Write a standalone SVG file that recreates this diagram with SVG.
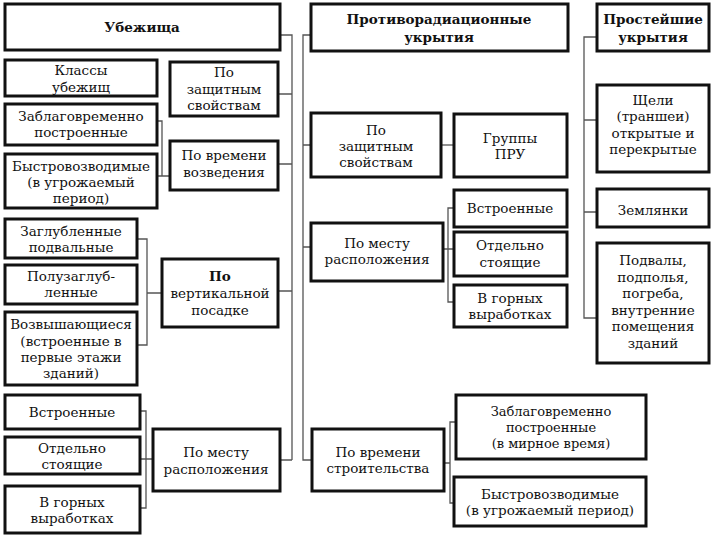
<svg xmlns="http://www.w3.org/2000/svg" width="720" height="540" viewBox="0 0 720 540">
<style>
rect{fill:#fff;stroke:#111;stroke-width:3}
text{font-family:"DejaVu Serif","Liberation Serif",serif;font-size:13.5px;fill:#111;text-anchor:middle}
.b{font-weight:bold}
.s{font-size:13px}
#connectors path{fill:none;stroke:#555;stroke-width:1.3}
</style>
<rect x="0" y="0" width="720" height="540" style="stroke:none"/>
<g id="connectors">
<path d="M280,35 H292 V460 M278,94 H292 M278,164 H292 M278,291 H292 M280,460 H292"/>
<path d="M157,121 H162 V176 M157,176 H170"/>
<path d="M137,239 H147 V345 H137 M147,293 H162"/>
<path d="M140,411 H146 V508 H140 M140,459 H153"/>
<path d="M311,35 H303 V460 H312 M303,145 H311 M303,247 H311"/>
<path d="M441,145 H454"/>
<path d="M454,208 H448 V302 H454 M443,249 H454"/>
<path d="M456,422 H450 V503 H454 M444,463 H450"/>
<path d="M597,37 H584 V318 H597 M584,120 H597 M584,212 H597"/>
</g>
<g id="ubezhishcha"><rect x="5" y="4" width="275" height="46"/><text class="b" x="142" y="32">Убежища</text></g>
<g id="klassy"><rect x="5" y="60" width="152" height="36"/><text x="81" y="75">Классы</text><text x="81" y="92">убежищ</text></g>
<g id="zashch1"><rect x="170" y="62" width="108" height="54"/><text x="224" y="77">По</text><text x="224" y="94">защитным</text><text x="224" y="110">свойствам</text></g>
<g id="zablag1"><rect x="5" y="104" width="152" height="41"/><text x="81" y="121">Заблаговременно</text><text x="81" y="137">построенные</text></g>
<g id="bystro1"><rect x="5" y="154" width="152" height="54"/><text x="81" y="171">Быстровозводимые</text><text x="81" y="187">(в угрожаемый</text><text x="81" y="203">период)</text></g>
<g id="vremya1"><rect x="170" y="141" width="108" height="49"/><text x="224" y="160">По времени</text><text x="224" y="177">возведения</text></g>
<g id="zaglub"><rect x="5" y="219" width="132" height="39"/><text x="71" y="236">Заглубленные</text><text x="71" y="252">подвальные</text></g>
<g id="poluz"><rect x="5" y="265" width="132" height="39"/><text x="71" y="281">Полузаглуб-</text><text x="71" y="297">ленные</text></g>
<g id="vozv"><rect x="5" y="312" width="132" height="73"/><text x="71" y="329">Возвышающиеся</text><text x="71" y="346">(встроенные в</text><text x="71" y="362">первые этажи</text><text x="71" y="378">зданий)</text></g>
<g id="vertik"><rect x="162" y="259" width="116" height="68"/><text class="b" x="220" y="281">По</text><text x="220" y="298">вертикальной</text><text x="220" y="315">посадке</text></g>
<g id="vstr1"><rect x="5" y="395" width="135" height="34"/><text x="72" y="417">Встроенные</text></g>
<g id="otd1"><rect x="5" y="437" width="135" height="37"/><text x="72" y="453">Отдельно</text><text x="72" y="469">стоящие</text></g>
<g id="gorn1"><rect x="5" y="486" width="135" height="47"/><text x="72" y="507">В горных</text><text x="72" y="523">выработках</text></g>
<g id="mesto1"><rect x="153" y="429" width="127" height="62"/><text x="216" y="457">По месту</text><text x="216" y="474">расположения</text></g>
<g id="pru"><rect x="311" y="4" width="257" height="47"/><text class="b" x="439" y="24">Противорадиационные</text><text class="b" x="439" y="42">укрытия</text></g>
<g id="zashch2"><rect x="311" y="113" width="130" height="64"/><text x="376" y="135">По</text><text x="376" y="151">защитным</text><text x="376" y="167">свойствам</text></g>
<g id="gruppy"><rect x="454" y="114" width="113" height="63"/><text x="510" y="143">Группы</text><text x="510" y="159">ПРУ</text></g>
<g id="mesto2"><rect x="311" y="223" width="132" height="58"/><text x="377" y="248">По месту</text><text x="377" y="264">расположения</text></g>
<g id="vstr2"><rect x="454" y="190" width="113" height="37"/><text x="510" y="213">Встроенные</text></g>
<g id="otd2"><rect x="454" y="232" width="113" height="44"/><text x="510" y="250">Отдельно</text><text x="510" y="267">стоящие</text></g>
<g id="gorn2"><rect x="454" y="285" width="113" height="42"/><text x="510" y="303">В горных</text><text x="510" y="319">выработках</text></g>
<g id="vremya2"><rect x="312" y="429" width="132" height="62"/><text x="378" y="457">По времени</text><text x="378" y="473">строительства</text></g>
<g id="zablag2"><rect x="456" y="395" width="190" height="64"/><text class="s" x="551" y="416">Заблаговременно</text><text class="s" x="551" y="432">построенные</text><text class="s" x="551" y="448">(в мирное время)</text></g>
<g id="bystro2"><rect x="454" y="477" width="192" height="49"/><text x="550" y="499">Быстровозводимые</text><text x="550" y="515">(в угрожаемый период)</text></g>
<g id="prost"><rect x="597" y="4" width="112" height="47"/><text class="b" x="653" y="24">Простейшие</text><text class="b" x="653" y="42">укрытия</text></g>
<g id="shcheli"><rect x="597" y="85" width="112" height="87"/><text x="653" y="105">Щели</text><text x="653" y="121">(траншеи)</text><text x="653" y="138">открытые и</text><text x="653" y="154">перекрытые</text></g>
<g id="zeml"><rect x="597" y="189" width="112" height="38"/><text x="653" y="215">Землянки</text></g>
<g id="podvaly"><rect x="597" y="243" width="112" height="120"/><text x="653" y="265">Подвалы,</text><text x="653" y="282">подполья,</text><text x="653" y="298">погреба,</text><text x="653" y="315">внутренние</text><text x="653" y="331">помещения</text><text x="653" y="348">зданий</text></g>
</svg>
